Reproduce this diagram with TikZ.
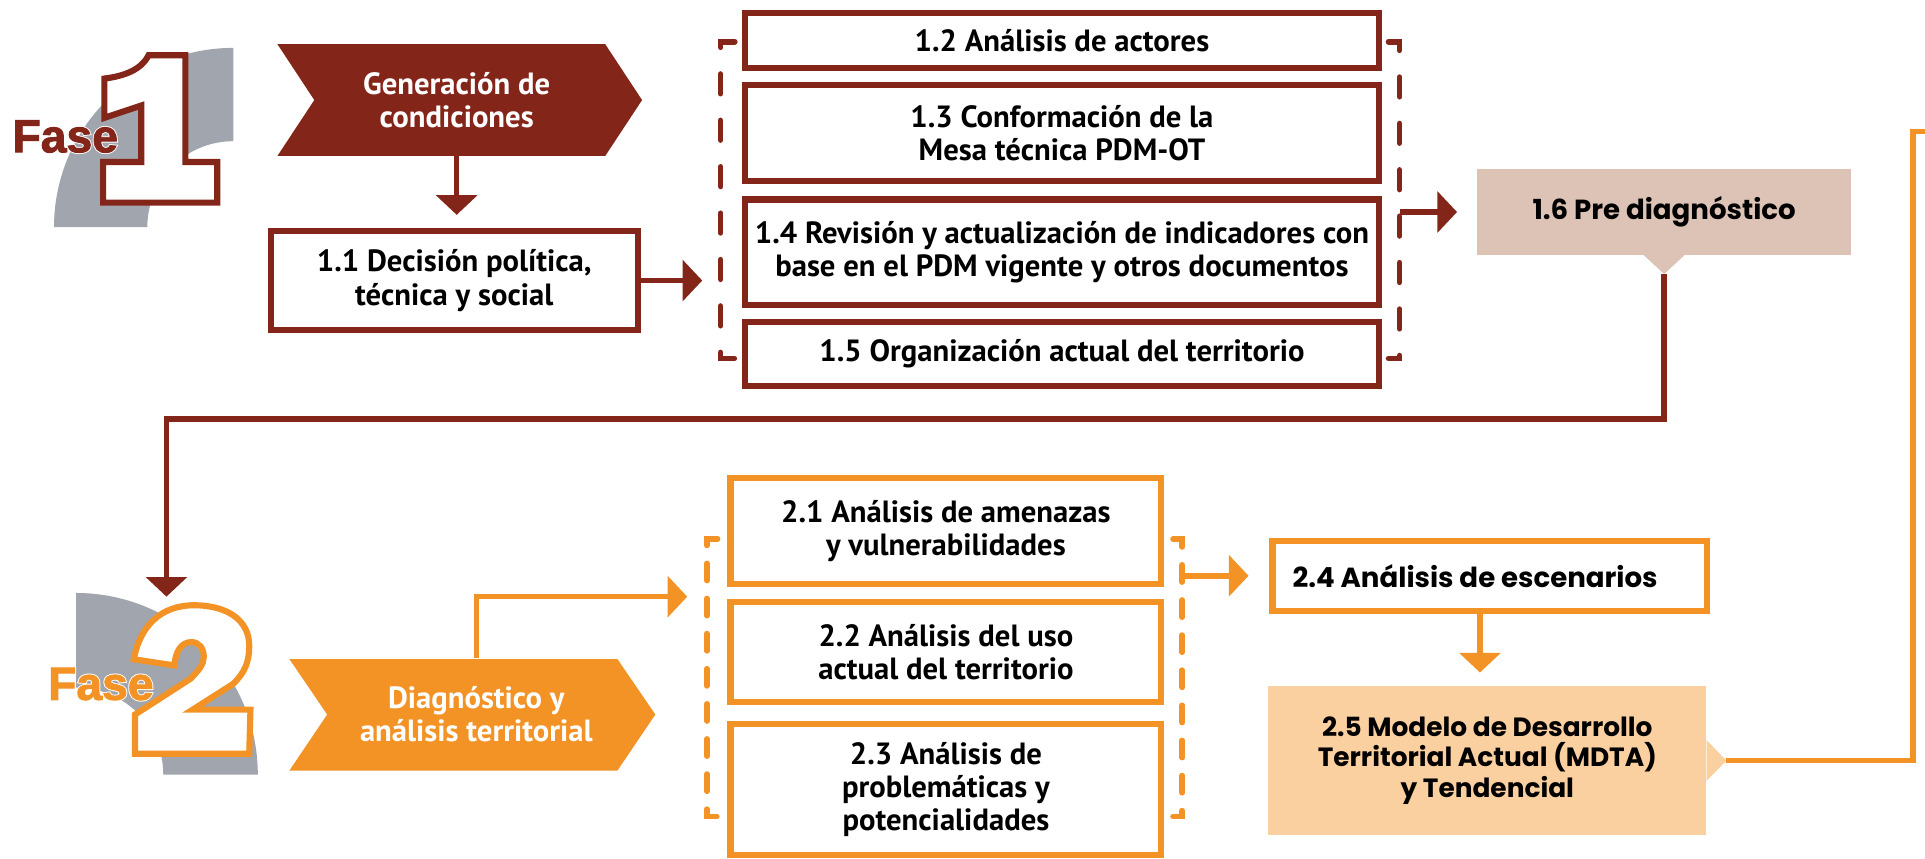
\documentclass[tikz,border=0pt]{standalone}
\usepackage{fontspec}
\setmainfont{PT Sans}
\newfontfamily\widefont{Poppins}
\newfontfamily\fasefont{Liberation Sans Bold}[FakeBold=2]
\newfontfamily\fasehalo{Liberation Sans Bold}[FakeBold=6]
\usetikzlibrary{arrows.meta}
\usetikzlibrary{positioning}
\usetikzlibrary{backgrounds}

\definecolor{faseuno}{RGB}{132,37,25}
\definecolor{fasedos}{RGB}{243,147,37}
\definecolor{grisarco}{RGB}{161,165,173}
\definecolor{predx}{RGB}{220,195,181}
\definecolor{mdta}{RGB}{251,208,160}

\begin{document}
\begin{tikzpicture}[x=1pt, y=-1pt,
  > = {Triangle[width=33pt,length=16pt]},
  every node/.style = {inner sep=0pt, align=center, font=\bfseries\fontsize{25}{27}\selectfont},
  caja/.style = {draw=#1, line width=5pt, fill=white},
  chev/.style = {text=white, minimum height=91pt},
  nota/.style = {fill=#1, font=\widefont\bfseries\fontsize{22.5}{25}\selectfont},
  flujo/.style = {draw=#1, line width=4.5pt},
  corcheteuno/.style = {draw=faseuno, line width=4.6pt, line cap=round, dash pattern=on 16pt off 21.8pt},
  corchetedos/.style = {draw=fasedos, line width=4.6pt, line cap=round, dash pattern=on 14pt off 14.6pt},
  digito/.style = {draw=#1, line width=5pt, fill=white},
  fase/.style = {anchor=base west, font=\fasefont\fontsize{37.7}{40}\selectfont},
  halo/.style = {anchor=base west, text=white, font=\fasehalo\fontsize{37.7}{40}\selectfont}
  ]
  \useasboundingbox (0,0) rectangle (1568,699);

  % logo fase 1
  \fill[grisarco] (190,39) arc[start angle=90, end angle=180, radius=146pt]
    -- (120,185) arc[start angle=180, end angle=90, radius=70pt] -- cycle;
  \draw[digito=faseuno] (84,165) -- (177,165) -- (177,132) -- (151,132) -- (151,45) -- (121,45)
    .. controls (115,57) and (101,62) .. (85,64) -- (85,96) -- (115,86) -- (115,132) -- (84,132) -- cycle;
  \node[halo] (h1) at (10,124) {Fase};
  \node[fase, text=faseuno] (f1) at (10,124) {Fase};

  % logo fase 2
  \fill[grisarco] (62,483) arc[start angle=90, end angle=0, radius=148pt]
    -- (133,631) arc[start angle=0, end angle=90, radius=71pt] -- cycle;
  \draw[digito=fasedos] (110,614) -- (203,614) -- (204,578) -- (157,578) -- (190,557)
    .. controls (199,548) and (203,540) .. (203,526)
    .. controls (203,505) and (185,493) .. (158,493)
    .. controls (131,493) and (114,510) .. (109,537) -- (142,542)
    .. controls (143,530) and (148,523) .. (156,523)
    .. controls (162,523) and (166,528) .. (166,535)
    .. controls (166,541) and (162,546) .. (155,553) -- (110,582) -- cycle;
  \node[halo] (h2) at (39,570) {Fase};
  \node[fase, text=fasedos] (f2) at (39,570) {Fase};

  % fase 1
  \node[chev] (gen) at (372,81.5) {Generación de\\condiciones};
  \node[caja=faseuno, minimum width=299pt, minimum height=80pt] (a11) at (370,228.5) {1.1 Decisión política,\\técnica y social};
  \node[caja=faseuno, minimum width=517pt, minimum height=45pt] (a12) at (865,33) {1.2 Análisis de actores};
  \node[caja=faseuno, minimum width=517pt, minimum height=78pt] (a13) at (865,108.5) {1.3 Conformación de la\\Mesa técnica PDM-OT};
  \node[caja=faseuno, minimum width=517pt, minimum height=86pt] (a14) at (865,205.5) {1.4 Revisión y actualización de indicadores con\\base en el PDM vigente y otros documentos};
  \node[caja=faseuno, minimum width=517pt, minimum height=52pt] (a15) at (865,288.5) {1.5 Organización actual del territorio};
  \node[nota=predx, minimum width=305pt, minimum height=70pt] (p16) at (1355.5,172.7) {1.6 Pre diagnóstico};
  \fill[predx] ([xshift=-16.5pt]p16.south) -- ([yshift=-15.3pt]p16.south) -- ([xshift=16.5pt]p16.south) -- cycle;

  \coordinate (k1l) at (587,163);
  \coordinate (k1r) at (1140,163);
  \draw[corcheteuno] (598.5,34) -- (587,34) -- (587,292) -- (598.5,292);
  \draw[corcheteuno] (1131,34) -- (1140,34) -- (1140,292) -- (1131,292);

  \draw[flujo=faseuno, ->, shorten >=11pt] (gen.south) -- (gen.south |- a11.north);
  \draw[flujo=faseuno, ->, shorten >=15pt] (a11.east) -- (a11.east -| k1l);
  \draw[flujo=faseuno, ->, shorten >=16pt] (p16.west -| k1r) -- (p16.west);

  % fase 2
  \node[chev] (diag) at (388,582) {Diagnóstico y\\análisis territorial};
  \node[caja=fasedos, minimum width=351pt, minimum height=86pt] (d21) at (770.5,432.5) {2.1 Análisis de amenazas\\y vulnerabilidades};
  \node[caja=fasedos, minimum width=351pt, minimum height=81pt] (d22) at (770.5,531) {2.2 Análisis del uso\\actual del territorio};
  \node[caja=fasedos, minimum width=351pt, minimum height=107pt] (d23) at (770.5,643) {2.3 Análisis de\\problemáticas y\\potencialidades};
  \node[caja=fasedos, minimum width=354pt, minimum height=57pt, font=\widefont\bfseries\fontsize{22.5}{25}\selectfont] (d24) at (1213.5,469) {2.4 Análisis de escenarios\hspace*{24pt}};
  \node[nota=mdta, minimum width=357pt, minimum height=121pt, font=\widefont\bfseries\fontsize{21.5}{25}\selectfont] (m25) at (1211.5,619.5) {2.5 Modelo de Desarrollo\\Territorial Actual (MDTA)\\y Tendencial};
  \fill[mdta] ([yshift=16.5pt]m25.east) -- ([xshift=16pt]m25.east) -- ([yshift=-16.5pt]m25.east) -- cycle;

  \coordinate (k2l) at (575.8,486);
  \coordinate (k2r) at (963,471);
  \draw[corchetedos] (584.5,439) -- (575.8,439) -- (575.8,665) -- (584.5,665);
  \draw[corchetedos] (955.5,439) -- (963,439) -- (963,665) -- (955.5,665);

  \coordinate (f2in) at (135.6,486);
  \coordinate (giro) at (1558.4,107);
  \coordinate (salida) at (1580,107);

  \draw[flujo=faseuno, ->] ([yshift=-15pt]p16.south) -- ++(0,118.5) -| (f2in);
  \draw[flujo=fasedos, ->, shorten >=16pt] (diag.north) |- (k2l);
  \draw[flujo=fasedos, ->, shorten >=17pt] (d24.west -| k2r) -- (d24.west);
  \draw[flujo=fasedos, ->, shorten >=11pt] ([xshift=-8pt]d24.south) -- ([xshift=-8pt]d24.south |- m25.north);
  \draw[flujo=fasedos] ([xshift=16pt]m25.east) -| (giro) -- (salida);

  \begin{scope}[on background layer]
    \fill[faseuno] (226,36) -- (493,36) -- (523,81.5) -- (493,127) -- (226,127) -- (256,81.5) -- cycle;
    \fill[fasedos] (235.7,536.8) -- (502.9,536.8) -- (533.8,582) -- (502.9,627.7) -- (235.7,627.7) -- (266.5,582) -- cycle;
  \end{scope}
\end{tikzpicture}
\end{document}
